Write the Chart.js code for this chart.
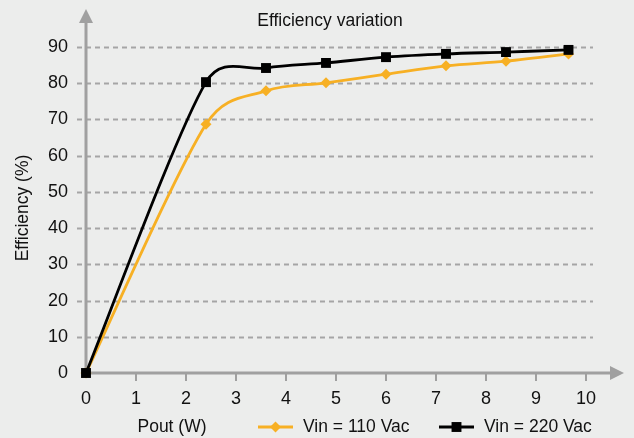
<!DOCTYPE html>
<html>
<head>
<meta charset="utf-8">
<script src="https://cdn.jsdelivr.net/npm/chart.js@4/dist/chart.umd.min.js"></script>
<style>
  html, body { margin: 0; padding: 0; background: #ecedec; }
  #wrap { width: 634px; height: 438px; }
</style>
</head>
<body>
<div id="wrap"><canvas id="c" width="634" height="438"></canvas></div>
<script>
// Output power (W) at each measured point
const poutW = [0, 2.4, 3.6, 4.8, 6.0, 7.2, 8.4, 9.65];
// Efficiency (%) per input voltage
const eff110 = [0, 68.7, 77.9, 80.1, 82.5, 84.8, 86.1, 88.1];
const eff220 = [0, 80.3, 84.2, 85.6, 87.2, 88.1, 88.6, 89.2];
const seriesNames = ['Vin = 110 Vac', 'Vin = 220 Vac'];
const xTicks = [0, 1, 2, 3, 4, 5, 6, 7, 8, 9, 10];
const yTicks = [0, 10, 20, 30, 40, 50, 60, 70, 80, 90];

const FONT = '"Liberation Sans", Arial, sans-serif';
const TEXT = '#111111';
const AXIS = '#a0a0a0';
const GRID = '#a5a5a5';
const YELLOW = '#f7b024';
const BLACK = '#000000';

Chart.defaults.font.family = FONT;
Chart.defaults.font.size = 18;
Chart.defaults.color = TEXT;

const pts = arr => poutW.map((x, i) => ({ x, y: arr[i] }));

// Smoothed line: Catmull-Rom style tangents (1/6 of neighbour span),
// with each handle capped at half the adjacent segment length.
const smoothLines = {
  id: 'smoothLines',
  beforeDatasetDraw(chart, args) {
    const meta = args.meta;
    const line = meta.dataset;
    const p = meta.data;
    if (!line || p.length < 2) return;
    line.updateControlPoints(chart.chartArea, 'x');
    const n = p.length;
    for (let i = 0; i < n; i++) {
      const prev = p[Math.max(i - 1, 0)];
      const next = p[Math.min(i + 1, n - 1)];
      const cur = p[i];
      let tx = next.x - prev.x, ty = next.y - prev.y;
      const tl = Math.hypot(tx, ty) || 1;
      tx /= tl; ty /= tl;
      const dPrev = Math.hypot(cur.x - prev.x, cur.y - prev.y);
      const dNext = Math.hypot(next.x - cur.x, next.y - cur.y);
      const base = tl / 6;
      const lenIn = Math.min(base, dPrev * 0.5);
      const lenOut = Math.min(base, dNext * 0.5);
      cur.cp1x = cur.x - tx * lenIn;
      cur.cp1y = cur.y - ty * lenIn;
      cur.cp2x = cur.x + tx * lenOut;
      cur.cp2y = cur.y + ty * lenOut;
    }
    line._pointsUpdated = true;
  }
};

const decor = {
  id: 'decor',
  beforeDraw(chart) {
    const { ctx } = chart;
    ctx.save();
    ctx.fillStyle = '#ecedec';
    ctx.fillRect(0, 0, chart.width, chart.height);
    ctx.restore();
  },
  beforeDatasetsDraw(chart) {
    const { ctx, chartArea: a, scales: { x, y } } = chart;
    ctx.save();
    // dashed horizontal grid
    ctx.strokeStyle = GRID;
    ctx.lineWidth = 2;
    ctx.setLineDash([5, 4]);
    yTicks.forEach(v => {
      if (v === 0) return;
      const py = Math.round(y.getPixelForValue(v)) + 0.5;
      ctx.beginPath();
      ctx.moveTo(a.left - 9, py);
      ctx.lineTo(a.right + 7, py);
      ctx.stroke();
    });
    ctx.setLineDash([]);
    // axes with arrow heads
    const x0 = x.getPixelForValue(0);
    const y0 = y.getPixelForValue(0);
    ctx.strokeStyle = AXIS;
    ctx.fillStyle = AXIS;
    ctx.lineWidth = 3;
    ctx.beginPath();
    ctx.moveTo(x0, y0);
    ctx.lineTo(x0, 20);
    ctx.moveTo(x0 - 1.5, y0);
    ctx.lineTo(612, y0);
    ctx.stroke();
    ctx.beginPath();
    ctx.moveTo(x0, 9);
    ctx.lineTo(x0 - 7, 23);
    ctx.lineTo(x0 + 7, 23);
    ctx.closePath();
    ctx.fill();
    ctx.beginPath();
    ctx.moveTo(624, y0);
    ctx.lineTo(610, y0 - 7);
    ctx.lineTo(610, y0 + 7);
    ctx.closePath();
    ctx.fill();
    // x tick marks
    ctx.lineWidth = 2;
    xTicks.forEach(v => {
      if (v === 0) return;
      const px = Math.round(x.getPixelForValue(v));
      ctx.beginPath();
      ctx.moveTo(px, y0);
      ctx.lineTo(px, y0 + 8);
      ctx.stroke();
    });
    ctx.restore();
  },
  afterDraw(chart) {
    const { ctx } = chart;
    ctx.save();
    ctx.fillStyle = TEXT;
    ctx.font = '17.5px ' + FONT;
    ctx.textBaseline = 'middle';
    // title
    ctx.textAlign = 'center';
    ctx.fillText('Efficiency variation', 330, 21);
    // x axis title
    ctx.fillText('Pout (W)', 172, 427);
    // y axis title
    ctx.save();
    ctx.translate(23, 208);
    ctx.rotate(-Math.PI / 2);
    ctx.fillText('Efficiency (%)', 0, 0);
    ctx.restore();
    // legend
    const items = [
      { label: seriesNames[0], color: YELLOW, style: 'rectRot', r: 5.5, x: 258 },
      { label: seriesNames[1], color: BLACK, style: 'rect', r: 7, x: 439 }
    ];
    items.forEach(it => {
      const ly = 427;
      ctx.strokeStyle = it.color;
      ctx.fillStyle = it.color;
      ctx.lineWidth = 2.8;
      ctx.beginPath();
      ctx.moveTo(it.x, ly);
      ctx.lineTo(it.x + 35, ly);
      ctx.stroke();
      Chart.helpers.drawPoint(ctx, { pointStyle: it.style, radius: it.r, borderWidth: 0 }, it.x + 17.5, ly);
      ctx.fillStyle = TEXT;
      ctx.textAlign = 'left';
      ctx.fillText(it.label, it.x + 45, ly);
    });
    ctx.restore();
  }
};

new Chart(document.getElementById('c'), {
  type: 'line',
  data: {
    datasets: [
      {
        label: seriesNames[1],
        data: pts(eff220),
        borderColor: BLACK,
        backgroundColor: BLACK,
        borderWidth: 2.8,
        pointStyle: 'rect',
        pointRadius: 7,
        pointBorderWidth: 0,
        tension: 0.3,
        clip: false,
        order: 0
      },
      {
        label: seriesNames[0],
        data: pts(eff110),
        borderColor: YELLOW,
        backgroundColor: YELLOW,
        borderWidth: 2.8,
        pointStyle: 'rectRot',
        pointRadius: 5.5,
        pointBorderWidth: 0,
        tension: 0.3,
        clip: false,
        order: 1
      }
    ]
  },
  options: {
    responsive: false,
    animation: false,
    layout: { padding: { left: 0, top: 47, right: 48, bottom: 0 } },
    plugins: { legend: { display: false }, tooltip: { enabled: false } },
    scales: {
      x: {
        type: 'linear',
        min: 0,
        max: 10,
        afterBuildTicks: s => { s.ticks = xTicks.map(v => ({ value: v })); },
        afterFit: s => { s.height = 65; },
        grid: { display: false, drawTicks: false },
        border: { display: false },
        ticks: { padding: 15, font: { size: 18 }, color: TEXT }
      },
      y: {
        min: 0,
        max: 90,
        afterBuildTicks: s => { s.ticks = yTicks.map(v => ({ value: v })); },
        afterFit: s => { s.width = 86; },
        grid: { display: false, drawTicks: false },
        border: { display: false },
        ticks: { padding: 18, font: { size: 18 }, color: TEXT }
      }
    }
  },
  plugins: [smoothLines, decor]
});
</script>
</body>
</html>
